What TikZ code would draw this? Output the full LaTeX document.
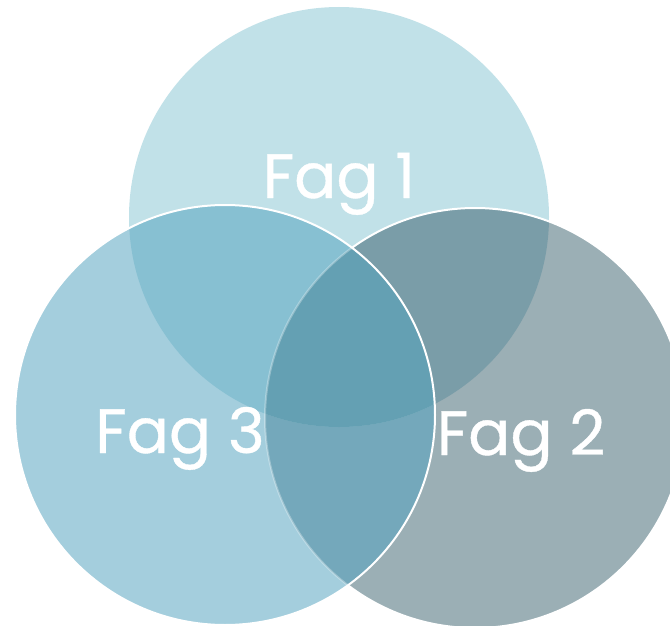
\documentclass[tikz,border=0pt]{standalone}
\usepackage{fontspec}
\setmainfont{Poppins}
\newfontfamily\labelfont[FakeBold=0.6]{Poppins}
\definecolor{cA}{HTML}{C1E1E8}
\definecolor{cB}{HTML}{9BAFB5}
\definecolor{cC}{HTML}{A4CEDD}
\definecolor{cAB}{HTML}{7A9DA8}
\definecolor{cAC}{HTML}{87C0D2}
\definecolor{cBC}{HTML}{74A8BB}
\definecolor{cABC}{HTML}{64A0B3}
\tikzset{
  label/.style={text=white, font=\labelfont\fontsize{62.5}{66}\selectfont, inner sep=0pt, anchor=base},
  rim/.style={draw=white, line width=2pt}
}
\begin{document}
\begin{tikzpicture}[x=1pt,y=-1pt]
\useasboundingbox (0,0) rectangle (670,626);
\fill[white] (0,0) rectangle (670,626);
% base fills
\fill[cA] (339,217) circle (210);
\fill[cB] (475,418) circle (210);
\fill[cC] (225,415) circle (210);
% overlaps
\begin{scope}
  \clip (475,418) circle (210);
  \fill[cBC] (225,415) circle (210);
\end{scope}
\begin{scope}
  \clip (339,217) circle (210);
  \fill[cAB] (475,418) circle (210);
  \fill[cAC] (225,415) circle (210);
  \begin{scope}
    \clip (475,418) circle (210);
    \fill[cABC] (225,415) circle (210);
  \end{scope}
\end{scope}
% outline of right circle: full outside left circle, faint inside
\begin{scope}[even odd rule]
  \clip (0,0) rectangle (670,626) (225,415) circle (210);
  \draw[rim] (475,418) circle (210);
\end{scope}
\begin{scope}
  \clip (225,415) circle (210);
  \draw[rim, draw opacity=0.3] (475,418) circle (210);
\end{scope}
% outline of left circle
\draw[rim] (225,415) circle (210);
% labels
\node[label] (f1) at (339,198) {Fag 1};
\node[label] (f3) at (180,453) {Fag 3};
\node[label] (f2) at (521,455) {Fag 2};
\end{tikzpicture}
\end{document}
